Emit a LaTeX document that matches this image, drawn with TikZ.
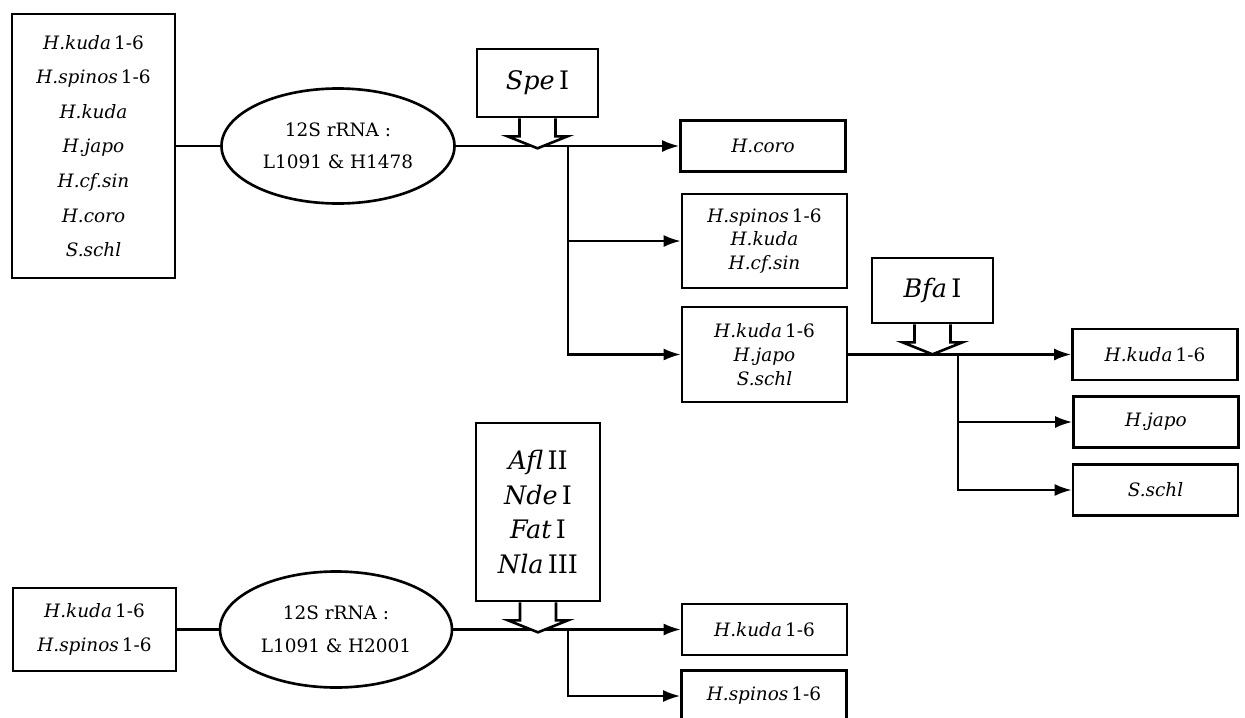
\documentclass[tikz,border=0pt]{standalone}
\usepackage{fontspec}
\setmainfont{DejaVu Serif}
\usetikzlibrary{arrows.meta,calc,positioning,shapes.geometric}

\begin{document}
\begin{tikzpicture}[
    x=0.2mm, y=-0.2mm,
    >={Latex[length=3.4mm,width=2.4mm]},
    line width=1.3pt,
    taxa/.style={
        draw,
        line width=1.5pt,
        minimum width=3.3cm,
        minimum height=1.02cm,
        inner sep=2pt,
        align=center,
        font=\fontsize{10.5}{13.6}\selectfont
    },
    pool/.style={taxa, minimum width=3.26cm, font=\fontsize{10.5}{19.7}\selectfont},
    primer/.style={
        ellipse,
        draw,
        line width=1.5pt,
        minimum width=4.66cm,
        minimum height=2.3cm,
        inner sep=0pt,
        align=center,
        font=\fontsize{10.5}{18.5}\selectfont
    },
    enzyme/.style={
        draw,
        line width=1.5pt,
        minimum width=2.42cm,
        inner sep=2pt,
        align=center,
        font=\fontsize{14.5}{19.9}\selectfont
    }
]
\useasboundingbox (0,0) rectangle (1245,718);

% First assay: 12S fragment L1091/H1478 cut with SpeI, then BfaI.
\node[pool, minimum height=5.28cm] (all1) at (93.5,146)
    {\textit{H.kuda}\,1-6\\ \textit{H.spinos}\,1-6\\ \textit{H.kuda}\\ \textit{H.japo}\\
     \textit{H.cf.sin}\\ \textit{H.coro}\\ \textit{S.schl}};
\node[primer] (pr1) at (338,146) {12S rRNA :\\ L1091 \& H1478};
\node[enzyme, minimum height=1.36cm] (spe) at (537.5,83) {\textit{Spe}\,I};

\node[taxa] (coro) at (763,146) {\textit{H.coro}};
\node[taxa, minimum height=1.88cm] (grpA) at (764.5,241)
    {\textit{H.spinos}\,1-6\\ \textit{H.kuda}\\ \textit{H.cf.sin}};
\node[taxa, minimum height=1.9cm] (grpB) at (764.5,354.5)
    {\textit{H.kuda}\,1-6\\ \textit{H.japo}\\ \textit{S.schl}};

\node[enzyme, minimum height=1.3cm] (bfa) at (932.5,290.5) {\textit{Bfa}\,I};
\node[taxa] (kuda) at (1155,354.5) {\textit{H.kuda}\,1-6};
\node[taxa] (japo) at (1156,422) {\textit{H.japo}};
\node[taxa] (schl) at (1155.5,490) {\textit{S.schl}};

\coordinate (fork1) at (568,146);
\coordinate (fork2) at (958,354.5);

\draw (all1) -- (pr1);
\draw[->] (pr1) -- (coro);
\draw[->] (fork1) |- (grpA);
\draw[->] (fork1) |- (grpB);
\draw[->] (grpB) -- (kuda);
\draw[->] (fork2) |- (japo);
\draw[->] (fork2) |- (schl);

% Second assay: 12S fragment L1091/H2001 with four enzymes.
\node[pool, minimum height=1.66cm] (all2) at (94.5,629.5)
    {\textit{H.kuda}\,1-6\\ \textit{H.spinos}\,1-6};
\node[primer, minimum width=4.64cm, minimum height=2.32cm] (pr2) at (336,629.5)
    {12S rRNA :\\ L1091 \& H2001};
\node[enzyme, minimum width=2.48cm, minimum height=3.56cm] (afl) at (538,512)
    {\textit{Afl}\,II\\ \textit{Nde}\,I\\ \textit{Fat}\,I\\ \textit{Nla}\,III};
\node[taxa] (kuda2) at (764.5,629.5) {\textit{H.kuda}\,1-6};
\node[taxa] (spinos2) at (764,696) {\textit{H.spinos}\,1-6};

\coordinate (fork3) at (568,629.5);

\draw (all2) -- (pr2);
\draw[->] (pr2) -- (kuda2);
\draw[->] (fork3) |- (spinos2);

% Block arrows from each enzyme box down onto its line.
\foreach \e in {spe,bfa,afl} {
    \draw[line width=1.5pt, fill=white, line join=miter]
        ($(\e.south)+(-18,0)$) -- ++(0,18) -- ++(-12,0) --
        ($(\e.south)+(0,30)$) --
        ($(\e.south)+(30,18)$) -- ++(-12,0) -- ++(0,-18);
}

\end{tikzpicture}
\end{document}
